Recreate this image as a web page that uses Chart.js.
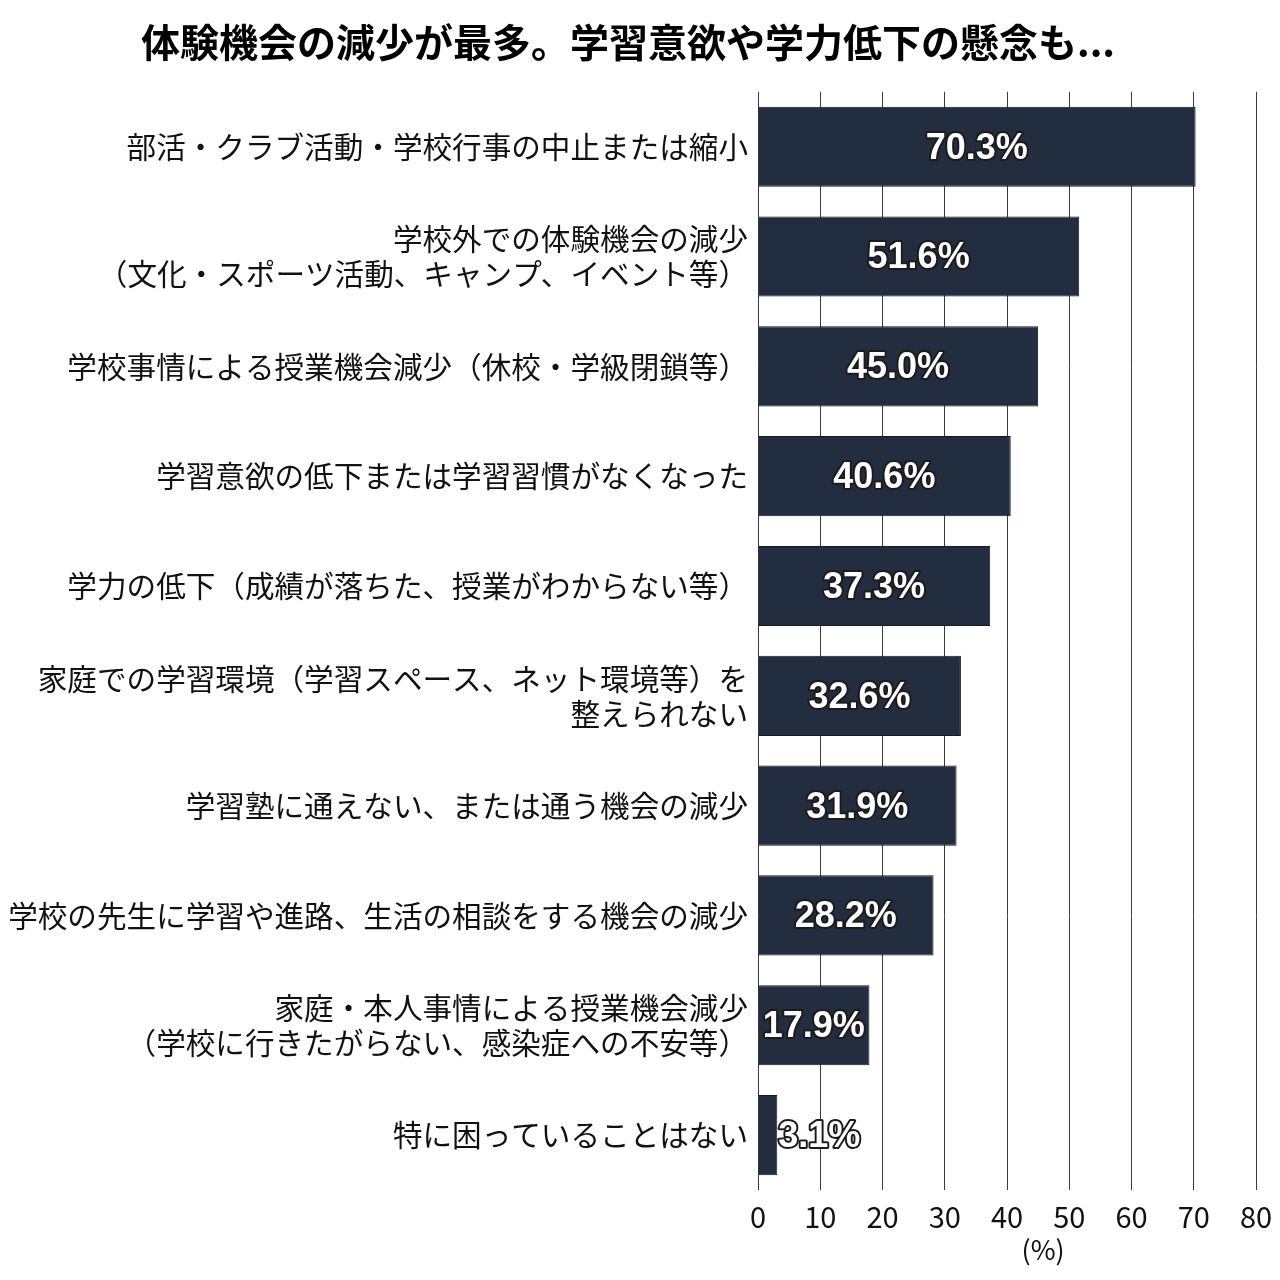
<!DOCTYPE html>
<html><head><meta charset="utf-8">
<script src="https://cdn.jsdelivr.net/npm/chart.js@4"></script>
<style>body{margin:0;background:#fff}#wrap{width:1280px;height:1280px}</style>
</head><body><div id="wrap"><canvas id="c" width="1280" height="1280"></canvas></div>
<script>
const titleText = '体験機会の減少が最多。学習意欲や学力低下の懸念も...';
const categories = [
  '部活・クラブ活動・学校行事の中止または縮小',
  ['学校外での体験機会の減少', '（文化・スポーツ活動、キャンプ、イベント等）'],
  '学校事情による授業機会減少（休校・学級閉鎖等）',
  '学習意欲の低下または学習習慣がなくなった',
  '学力の低下（成績が落ちた、授業がわからない等）',
  ['家庭での学習環境（学習スペース、ネット環境等）を', '整えられない'],
  '学習塾に通えない、または通う機会の減少',
  '学校の先生に学習や進路、生活の相談をする機会の減少',
  ['家庭・本人事情による授業機会減少', '（学校に行きたがらない、感染症への不安等）'],
  '特に困っていることはない'
];
const values = [70.3, 51.6, 45.0, 40.6, 37.3, 32.6, 31.9, 28.2, 17.9, 3.1];
const xTicks = [0, 10, 20, 30, 40, 50, 60, 70, 80];
const axisUnit = '(%)';

const jp = '"Noto Sans CJK JP", "Noto Sans", sans-serif';

const valueLabels = {
  id: 'valueLabels',
  afterDatasetsDraw(chart) {
    const ctx = chart.ctx;
    const meta = chart.getDatasetMeta(0);
    const xs = chart.scales.x;
    ctx.save();
    ctx.font = 'bold 36px "Liberation Sans", Arial, sans-serif';
    ctx.textBaseline = 'middle';
    ctx.lineJoin = 'round';
    meta.data.forEach((bar, i) => {
      const v = values[i];
      const txt = v.toFixed(1) + '%';
      let x, align;
      if (v < 10) { x = bar.x + 1; align = 'left'; }
      else { x = (xs.getPixelForValue(0) + bar.x) / 2; align = 'center'; }
      ctx.textAlign = align;
      ctx.lineWidth = 4;
      ctx.strokeStyle = '#1b1b1b';
      ctx.strokeText(txt, x, bar.y + 2);
      ctx.fillStyle = '#ffffff';
      ctx.fillText(txt, x, bar.y + 2);
    });
    ctx.font = '27px ' + jp;
    ctx.fillStyle = '#111';
    ctx.textAlign = 'center';
    ctx.fillText(axisUnit, xs.getPixelForValue(45.8), 1250);
    ctx.restore();
  }
};

new Chart(document.getElementById('c'), {
  type: 'bar',
  data: {
    labels: categories,
    datasets: [{
      data: values,
      backgroundColor: '#222d3f',
      borderColor: '#141a24',
      borderWidth: 1,
      barPercentage: 0.73,
      categoryPercentage: 1.0
    }]
  },
  options: {
    indexAxis: 'y',
    responsive: false,
    animation: false,
    devicePixelRatio: 1,
    layout: { padding: { left: 0, right: 24, top: 0, bottom: 37 } },
    plugins: {
      legend: { display: false },
      tooltip: { enabled: false },
      title: {
        display: true,
        text: titleText,
        color: '#000',
        font: { family: jp, size: 39, weight: 'bold' },
        padding: { top: 19, bottom: 26 }
      }
    },
    scales: {
      x: {
        min: 0, max: 80,
        afterBuildTicks(s) { s.ticks = xTicks.map(v => ({ value: v })); },
        afterFit(s) { s.paddingLeft = 0; s.paddingRight = 0; s.height = 53; },
        grid: { display: true, color: '#3a3a3a', lineWidth: 1, drawTicks: false },
        border: { display: false },
        ticks: { color: '#111', font: { family: jp, size: 29 }, padding: 10 }
      },
      y: {
        afterFit(s) { s.width = 758; s.paddingTop = 0; s.paddingBottom = 0; },
        grid: { display: false, drawTicks: false },
        border: { display: false },
        ticks: { color: '#111', font: { family: jp, size: 29.6, lineHeight: 1.18 }, padding: 10, autoSkip: false }
      }
    }
  },
  plugins: [valueLabels]
});
</script>
</body></html>
